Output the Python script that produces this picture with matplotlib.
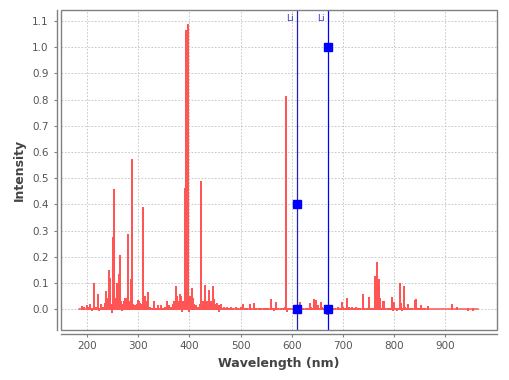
import matplotlib
matplotlib.use("Agg")
import matplotlib.pyplot as plt
from matplotlib.patches import Rectangle

# ---- data ----
peak_wl = [190, 194, 199, 203, 206, 209, 213.9, 217, 221.5, 224, 228, 231, 234.5, 236.5, 238, 240,
           243, 244, 245.5, 247, 249.6, 250.8, 252.7, 254, 255.5, 257.4, 259.3, 260.5, 261.5, 263.3,
           265.2, 266.5, 268, 270, 272, 274, 276, 277.5, 280, 281.5, 283, 285.3, 286.5, 288.2, 290,
           292, 294, 296, 298, 300, 302, 304, 306, 309.4, 311, 313.3, 315, 317, 319, 322, 326, 331,
           335, 338, 341, 345, 349, 353, 357, 361, 364, 368, 370, 372, 373.2, 374.5, 376, 378, 380,
           382.4, 383.5, 385, 386.5, 388, 389.5, 390.5, 391.4, 393.3, 394.3, 395.1, 396.0, 396.8,
           398, 399, 400, 402, 404.5, 406, 408, 410, 413, 416, 420, 422.7, 424, 426, 428, 430.5, 432,
           434, 436, 438.3, 440, 442, 444, 446, 448, 450, 452, 454.7, 457, 458.5, 461, 464, 467, 470,
           474, 478, 482, 486, 490, 495, 500, 504.7, 508, 512, 517.8, 521, 526, 530, 535, 540, 545,
           550, 554, 558.8, 562, 566, 569.9, 574, 579, 583, 587, 589.0, 589.6, 591, 593, 597, 602,
           606, 608, 610.4, 612, 615.4, 618, 622, 627, 632, 635.5, 638, 640, 643.4, 646, 648, 650,
           652, 654, 657, 660, 663, 666, 668, 670, 671.5, 673, 676, 680, 685, 690, 694, 698, 700,
           703, 707.8, 711, 714, 718, 722, 726, 730, 734, 739, 742, 746, 750, 751.5, 755, 758, 761,
           763.5, 766.4, 769.9, 771.7, 774, 778, 780, 783, 788, 792, 795.5, 797, 799, 802, 805, 808,
           811, 813, 815, 819, 821, 824, 827, 831, 835, 840.6, 842.6, 846, 850, 853, 856, 860, 866,
           870, 880, 890, 900, 913, 918, 922.7, 930, 940, 945, 955]
peak_int = [0.013, 0.008, 0.016, 0.01, 0.02, -0.005, 0.099, 0.01, 0.058, -0.005, 0.02, 0.01, 0.025,
            0.07, 0.045, 0.03, 0.15, 0.12, 0.04, 0.02, -0.013, 0.275, 0.459, 0.04, 0.02, 0.045, 0.10,
            0.08, 0.03, 0.134, 0.206, 0.03, -0.005, 0.02, 0.03, 0.045, 0.045, 0.02, 0.286, 0.02, 0.03,
            0.116, 0.02, 0.574, 0.02, 0.01, 0.015, 0.01, 0.02, 0.035, 0.03, 0.025, 0.02, 0.389, 0.02,
            0.05, 0.03, 0.02, 0.065, 0.01, 0.005, 0.03, 0.005, 0.015, 0.005, 0.015, 0.005, 0.01, 0.03,
            0.015, 0.01, 0.02, 0.03, 0.015, 0.09, 0.04, 0.05, 0.02, 0.03, 0.06, 0.05, -0.01, 0.03,
            0.025, 0.01, 0.46, 0.464, 1.066, 1.0, 0.92, 1.0, 1.089, 0.05, -0.01, 0.02, 0.05, 0.08,
            0.045, 0.02, 0.01, 0.015, 0.01, 0.02, 0.49, 0.02, 0.03, 0.02, 0.093, 0.02, 0.03, 0.01,
            0.073, 0.02, 0.03, 0.01, 0.089, 0.04, 0.02, 0.01, 0.023, 0.015, -0.009, 0.02, 0.005, 0.01,
            0.005, 0.01, 0.005, 0.01, 0.005, 0.008, 0.005, 0.008, 0.02, 0.005, 0.005, 0.02, 0.005,
            0.023, 0.005, 0.005, 0.005, 0.005, 0.005, 0.005, 0.039, 0.005, -0.005, 0.028, 0.005, 0.005,
            0.005, 0.01, 0.814, 0.696, -0.01, 0.005, 0.005, 0.005, 0.01, -0.01, 0.01, -0.008, 0.029,
            0.005, 0.005, 0.005, 0.005, 0.025, 0.01, 0.005, 0.039, 0.033, 0.037, 0.01, 0.015, 0.005,
            0.028, 0.01, 0.005, 0.01, -0.02, -0.015, 0.01, -0.01, 0.005, 0.005, 0.005, 0.01, 0.005,
            0.029, 0.01, 0.005, 0.044, 0.01, 0.005, 0.01, 0.005, 0.01, 0.005, 0.005, 0.058, 0.005,
            0.005, 0.046, 0.046, -0.003, -0.003, 0.005, 0.127, 0.18, 0.115, 0.042, 0.005, 0.032, 0.03,
            0.005, 0.005, 0.005, 0.046, -0.005, 0.027, 0.005, -0.005, 0.005, 0.1, 0.025, -0.005, 0.089,
            0.01, 0.005, 0.02, 0.005, 0.005, 0.035, 0.04, 0.005, 0.005, 0.016, 0.005, 0.005, 0.013,
            0.003, 0.003, 0.003, 0.003, 0.02, 0.003, 0.01, 0.003, 0.003, -0.005, -0.007]
spec_start, spec_end = 185, 963

li_wl = [610.4, 670.8]
li_rel = [0.4, 1.0]
li_label = "Li"

x_ticks = [200, 300, 400, 500, 600, 700, 800, 900]
y_ticks = [0.0, 0.1, 0.2, 0.3, 0.4, 0.5, 0.6, 0.7, 0.8, 0.9, 1.0, 1.1]

# ---- figure ----
fig = plt.figure(figsize=(5.09, 3.80), dpi=100)
ax = fig.add_axes([61 / 509, 50 / 380, 436 / 509, 320 / 380])
ax.set_xlim(149, 1001)
ax.set_ylim(-0.079, 1.142)

xs = [spec_start]
ys = [0.0]
for w, v in zip(peak_wl, peak_int):
    xs += [w, w, w]
    ys += [0.0, v, 0.0]
xs.append(spec_end)
ys.append(0.0)
ax.plot(xs, ys, color="#FF5555", lw=1.1, zorder=3, solid_joinstyle="miter")

line_cols = ["#2020b0", "#0000ff"]
for w, r, c in zip(li_wl, li_rel, line_cols):
    ax.axvline(w, color=c, lw=0.9, zorder=4)
    ax.plot([w, w], [0.0, r], ls="none", marker="s", ms=5.2, color="#0000ff",
            mec="#0000ff", zorder=5)
    ax.text(w - 7, 1.108, li_label, color="#3333cc", fontsize=6.5, ha="right",
            va="center", zorder=6)

ax.set_xticks(x_ticks)
ax.set_yticks(y_ticks)
ax.set_yticklabels([f"{t:.1f}" for t in y_ticks])
ax.grid(True, color="#c0c0c0", ls=(0, (2, 2)), lw=0.6)
ax.set_axisbelow(True)

for s in ["top", "right"]:
    ax.spines[s].set_visible(False)
for s in ["left", "bottom"]:
    ax.spines[s].set_position(("outward", 3))
    ax.spines[s].set_color("#808080")
    ax.spines[s].set_linewidth(1.0)
ax.add_patch(Rectangle((0, 0), 1, 1, transform=ax.transAxes, fill=False,
                       ec="#808080", lw=1.0, zorder=10, clip_on=False))

ax.tick_params(axis="both", colors="#808080", labelcolor="#555555", labelsize=7.5,
               length=2, width=0.8)
ax.tick_params(axis="y", pad=4)
ax.tick_params(axis="x", pad=3)

ax.set_xlabel("Wavelength (nm)", fontsize=9, fontweight="bold", color="#444444", labelpad=4)
ax.set_ylabel("Intensity", fontsize=9, fontweight="bold", color="#444444", labelpad=4)

fig.savefig("out.png", dpi=100)
